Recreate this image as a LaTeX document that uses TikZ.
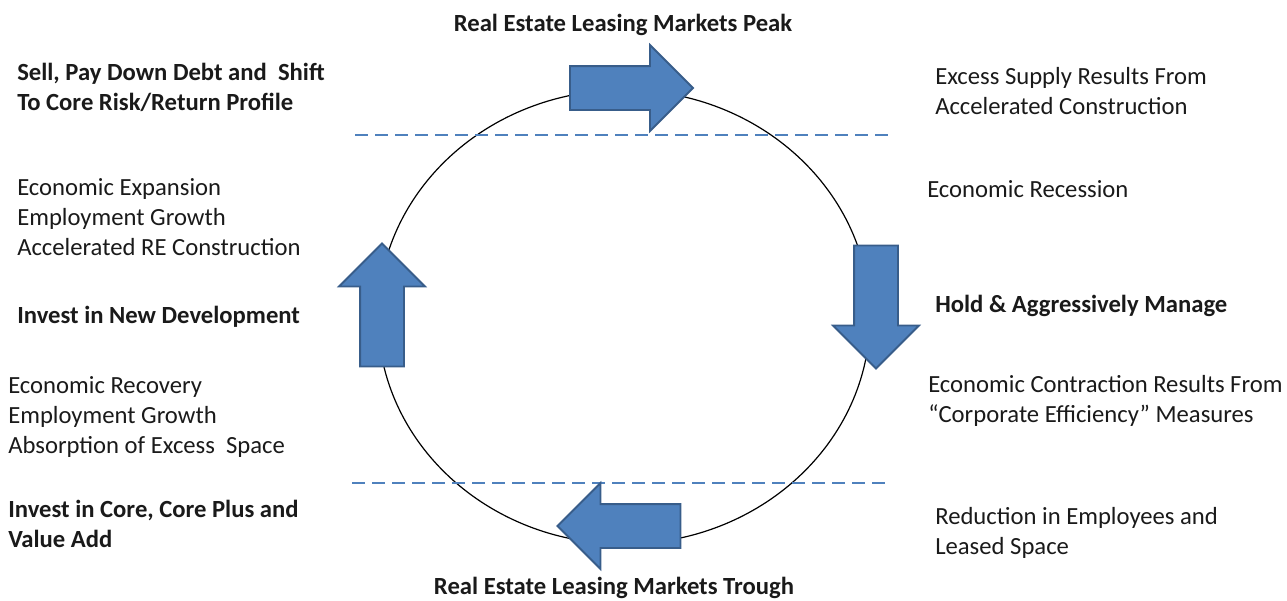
\documentclass[tikz,border=0pt]{standalone}
\usepackage{fontspec}
\setmainfont{Carlito}
\usepackage{tikz}
\usetikzlibrary{shapes.geometric, shapes.arrows}
\definecolor{mBlue}{HTML}{4F81BD}
\definecolor{mBlueDark}{HTML}{385D8A}
\definecolor{mText}{HTML}{1A1A1A}

\begin{document}
\begin{tikzpicture}[
  x=0.75pt, y=-0.75pt,
  note/.style={font=\fontsize{18.5}{22.5}\selectfont, text=mText, anchor=west, align=left, inner sep=0pt},
  headline/.style={note, font=\fontsize{18.5}{22.5}\selectfont\bfseries},
  cyclearrow/.style={single arrow, fill=mBlue, draw=mBlueDark, line width=1.4pt,
    minimum height=92.25pt, inner xsep=0pt, inner ysep=15.75pt,
    single arrow head extend=15.75pt, single arrow head indent=0pt},
  divider/.style={draw=mBlue, line width=2pt, dash pattern=on 10pt off 5pt},
]
  \useasboundingbox (0,0) rectangle (1287,600);

  % the cycle
  \node[draw, ellipse, line width=0.9pt, inner sep=0pt,
        minimum width=369pt, minimum height=340.5pt] (cycle) at (624,317) {};
  \draw[divider] (355,135) -- (893,135);
  \draw[divider] (352,483) -- (890,483);

  \node[cyclearrow] (peakarrow) at (620.5,88) {};
  \node[cyclearrow, rotate=-90] (downarrow) at (876,296) {};
  \node[cyclearrow, rotate=180] (troughearrow) at (630,526) {};
  \node[cyclearrow, rotate=90] (uparrow) at (382,316) {};

  % top and bottom
  \node[headline, anchor=center] (peak) at (623,25) {Real Estate Leasing Markets Peak};
  \node[headline, anchor=center] (trough) at (614,588) {Real Estate Leasing Markets Trough};

  % left side
  \node[headline] (sell) at (17,87)
    {Sell, Pay Down Debt and\ \ Shift\\To Core Risk/Return Profile};
  \node[note] (expansion) at (17,217)
    {Economic Expansion\\Employment Growth\\Accelerated RE Construction};
  \node[headline] (newdev) at (17,317) {Invest in New Development};
  \node[note] (recovery) at (8,417)
    {Economic Recovery\\Employment Growth\\Absorption of Excess\ \ Space};
  \node[headline] (core) at (8,524) {Invest in Core, Core Plus and\\Value Add};

  % right side
  \node[note] (excess) at (935,91.5)
    {Excess Supply Results From\\Accelerated Construction};
  \node[note] (recession) at (927,189) {Economic Recession};
  \node[headline] (hold) at (935,306) {Hold \& Aggressively Manage};
  \node[note] (contraction) at (928,401)
    {Economic Contraction Results From\\“Corporate Efficiency” Measures};
  \node[note] (reduction) at (935,532.5)
    {Reduction in Employees and\\Leased Space};
\end{tikzpicture}
\end{document}
